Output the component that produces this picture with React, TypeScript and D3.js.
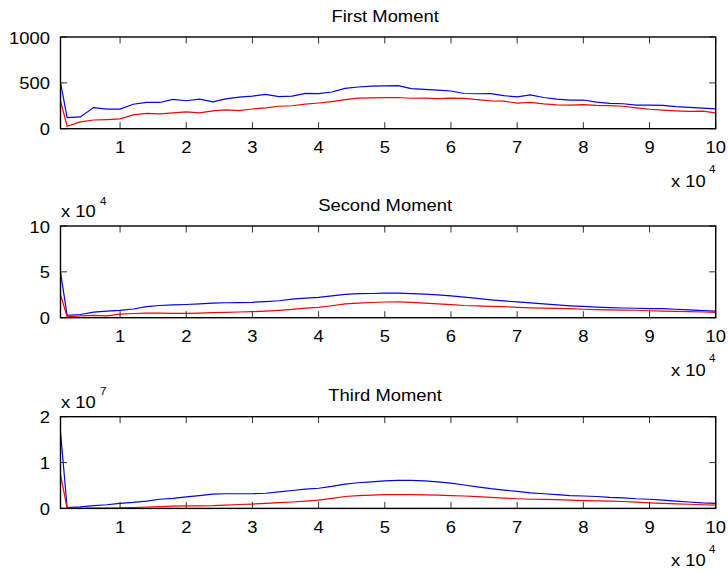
import React from 'react';
import * as d3 from 'd3';

// x positions (samples)
const X = [1000, 2000, 4000, 6000, 8000, 10000, 12000, 14000, 16000, 18000, 20000, 22000, 24000, 26000, 28000, 30000, 32000, 34000, 36000, 38000, 40000, 42000, 44000, 46000, 48000, 50000, 52000, 54000, 56000, 58000, 60000, 62000, 64000, 66000, 68000, 70000, 72000, 74000, 76000, 78000, 80000, 82000, 84000, 86000, 88000, 90000, 92000, 94000, 96000, 98000, 100000];

const FIRST_BLUE = [505, 122, 129, 230, 213, 213, 267, 286, 286, 319, 305, 322, 293, 325, 345, 355, 375, 350, 355, 385, 382, 400, 440, 455, 465, 467, 470, 437, 428, 420, 411, 384, 381, 382, 360, 347, 369, 340, 322, 312, 313, 290, 277, 272, 258, 258, 255, 240, 232, 225, 216];
const FIRST_RED = [303, 27, 74, 95, 100, 108, 150, 168, 162, 172, 184, 172, 194, 205, 198, 215, 228, 245, 250, 267, 280, 295, 318, 333, 336, 338, 340, 332, 333, 328, 334, 330, 318, 303, 300, 280, 286, 270, 260, 258, 262, 255, 252, 245, 228, 212, 203, 195, 190, 192, 173];

// second moment, units of 1e4
const SECOND_BLUE = [5.0, 0.25, 0.35, 0.6, 0.72, 0.79, 0.95, 1.2, 1.33, 1.4, 1.44, 1.5, 1.58, 1.63, 1.65, 1.68, 1.75, 1.85, 2.03, 2.14, 2.22, 2.38, 2.55, 2.62, 2.64, 2.67, 2.67, 2.63, 2.57, 2.48, 2.37, 2.25, 2.1, 1.95, 1.83, 1.72, 1.62, 1.5, 1.39, 1.3, 1.23, 1.15, 1.1, 1.06, 1.03, 1.0, 0.98, 0.92, 0.86, 0.78, 0.72];
const SECOND_RED = [2.52, 0.1, 0.2, 0.25, 0.2, 0.39, 0.46, 0.5, 0.49, 0.48, 0.47, 0.5, 0.55, 0.58, 0.62, 0.66, 0.72, 0.8, 0.9, 1.05, 1.13, 1.3, 1.5, 1.6, 1.66, 1.71, 1.73, 1.68, 1.6, 1.5, 1.42, 1.33, 1.29, 1.24, 1.2, 1.13, 1.08, 1.05, 1.02, 0.98, 0.92, 0.87, 0.85, 0.82, 0.81, 0.76, 0.72, 0.69, 0.66, 0.62, 0.57];

// third moment, units of 1e7
const THIRD_BLUE = [1.67, 0.02, 0.035, 0.06, 0.08, 0.11, 0.13, 0.16, 0.2, 0.22, 0.25, 0.28, 0.31, 0.32, 0.32, 0.32, 0.33, 0.36, 0.39, 0.42, 0.44, 0.48, 0.53, 0.56, 0.58, 0.6, 0.61, 0.61, 0.6, 0.58, 0.55, 0.51, 0.47, 0.43, 0.4, 0.37, 0.34, 0.32, 0.3, 0.28, 0.27, 0.26, 0.24, 0.23, 0.21, 0.2, 0.18, 0.16, 0.14, 0.12, 0.11];
const THIRD_RED = [0.74, 0.0, 0.0, 0.005, 0.008, 0.01, 0.02, 0.03, 0.04, 0.05, 0.055, 0.057, 0.06, 0.07, 0.085, 0.095, 0.11, 0.125, 0.14, 0.16, 0.18, 0.22, 0.26, 0.28, 0.29, 0.3, 0.3, 0.3, 0.295, 0.29, 0.28, 0.27, 0.255, 0.24, 0.225, 0.21, 0.2, 0.195, 0.19, 0.18, 0.17, 0.165, 0.16, 0.15, 0.135, 0.12, 0.11, 0.1, 0.09, 0.08, 0.07];

const X_TICKS = [10000, 20000, 30000, 40000, 50000, 60000, 70000, 80000, 90000, 100000];
const X_TICK_LABELS = ['1', '2', '3', '4', '5', '6', '7', '8', '9', '10'];

const TITLES = ['First Moment', 'Second Moment', 'Third Moment'];
const Y_MAX = [1000, 10, 2];
const Y_TICKS = [[0, 500, 1000], [0, 5, 10], [0, 1, 2]];
const Y_EXPONENT = [null, '4', '7'];

const W = 728;
const H = 573;
const LEFT = 60.5;
const RIGHT = 715.7;
const TOPS = [37, 226, 416.7];
const PH = 91.7;
const FONT = "'Liberation Sans', Arial, Helvetica, sans-serif";
const SX = 1.15;

function T({ x, y, anchor = 'start', size = 16, children }: any) {
  return (
    <text
      transform={`translate(${x},${y}) scale(${SX},1)`}
      textAnchor={anchor}
      fontSize={size}
      fontFamily={FONT}
      fill="#000"
    >
      {children}
    </text>
  );
}

function Panel({ idx, blue, red }: any) {
  const top = TOPS[idx];
  const bottom = top + PH;
  const x = d3.scaleLinear().domain([1000, 100000]).range([LEFT, RIGHT]);
  const y = d3.scaleLinear().domain([0, Y_MAX[idx]]).range([bottom, top]);
  const line = d3
    .line<number>()
    .x((_, i) => x(X[i]))
    .y((d) => y(d));
  const tl = 6.5;
  const exp = Y_EXPONENT[idx];
  return (
    <g>
      <path d={line(blue) || ''} fill="none" stroke="#0000ff" strokeWidth={1.2} />
      <path d={line(red) || ''} fill="none" stroke="#ff0000" strokeWidth={1.2} />
      {X_TICKS.map((t, i) => (
        <g key={'xt' + i}>
          <line x1={x(t)} x2={x(t)} y1={bottom} y2={bottom - tl} stroke="#333" strokeWidth={1} />
          <line x1={x(t)} x2={x(t)} y1={top} y2={top + tl} stroke="#333" strokeWidth={1} />
          <T x={x(t)} y={bottom + 24.7} anchor="middle">
            {X_TICK_LABELS[i]}
          </T>
        </g>
      ))}
      {Y_TICKS[idx].map((t, i) => (
        <g key={'yt' + i}>
          <line x1={LEFT} x2={LEFT + tl} y1={y(t)} y2={y(t)} stroke="#333" strokeWidth={1} />
          <line x1={RIGHT} x2={RIGHT - tl} y1={y(t)} y2={y(t)} stroke="#333" strokeWidth={1} />
          <T x={50} y={y(t) + 6.5} anchor="end">
            {String(t)}
          </T>
        </g>
      ))}
      <rect x={LEFT} y={top} width={RIGHT - LEFT} height={PH} fill="none" stroke="#000" strokeWidth={1.4} />
      <T x={(LEFT + RIGHT) / 2 - 3} y={top - 15.5} anchor="middle">
        {TITLES[idx]}
      </T>
      {exp && (
        <g>
          <T x={61} y={top - 9}>x 10</T>
          <T x={100} y={top - 21.5} size={10}>
            {exp}
          </T>
        </g>
      )}
      <T x={671} y={bottom + 58}>x 10</T>
      <T x={709} y={bottom + 44.5} size={10}>
        4
      </T>
    </g>
  );
}

export default function App() {
  return (
    <div style={{ position: 'absolute', left: 0, top: 0 }}>
      <svg width={W} height={H} style={{ display: 'block', background: '#fff' }}>
        <rect x={0} y={0} width={W} height={H} fill="#fff" />
        <Panel idx={0} blue={FIRST_BLUE} red={FIRST_RED} />
        <Panel idx={1} blue={SECOND_BLUE} red={SECOND_RED} />
        <Panel idx={2} blue={THIRD_BLUE} red={THIRD_RED} />
      </svg>
    </div>
  );
}
